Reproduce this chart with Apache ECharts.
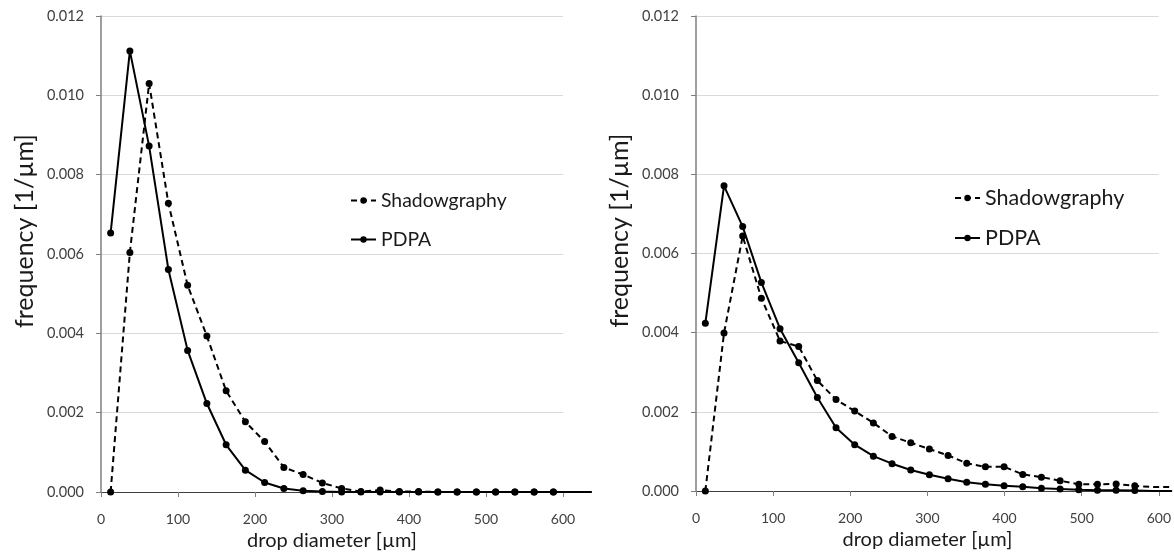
<!DOCTYPE html>
<html>
<head>
<meta charset="utf-8">
<script src="https://cdn.jsdelivr.net/npm/echarts@6/dist/echarts.min.js"></script>
<style>
  html, body { margin: 0; padding: 0; background: #fff; }
  #chart { width: 1174px; height: 557px; }
</style>
</head>
<body>
<div id="chart"></div>
<script>
// drop diameter class centres [µm]
const diameters = [12.5, 37.5, 62.5, 87.5, 112.5, 137.5, 162.5, 187.5, 212.5, 237.5,
  262.5, 287.5, 312.5, 337.5, 362.5, 387.5, 412.5, 437.5, 462.5, 487.5,
  512.5, 537.5, 562.5, 587.5, 612.5, 637.5]

// left panel
const leftShadow = [0, 0.00604, 0.01030, 0.00728, 0.00521, 0.00393, 0.00255, 0.00177, 0.00127, 0.00062,
  0.00044, 0.00023, 0.00009, 0.00001, 0.00005, 0.00001, 0.00001, 0, 0, 0,
  0, 0, 0, 0, 0, 0]
const leftPdpa = [0.00653, 0.01112, 0.00872, 0.00561, 0.00357, 0.00223, 0.00119, 0.00055, 0.00024, 0.00009,
  0.00003, 0.00001, 0, 0, 0, 0, 0, 0, 0, 0,
  0, 0, 0, 0, 0, 0]

// right panel
const rightShadow = [0, 0.00399, 0.00644, 0.00487, 0.00379, 0.00365, 0.00279, 0.00231, 0.00202, 0.00172,
  0.00138, 0.00122, 0.00106, 0.00090, 0.00070, 0.00061, 0.00061, 0.00042, 0.00035, 0.00026,
  0.00017, 0.00017, 0.00018, 0.00013, 0.00010, 0.00010]
const rightPdpa = [0.00424, 0.00771, 0.00668, 0.00527, 0.00410, 0.00324, 0.00236, 0.00160, 0.00117, 0.00088,
  0.00069, 0.00053, 0.00041, 0.00031, 0.00022, 0.00017, 0.00013, 0.00011, 0.00007, 0.00005,
  0.00003, 0.00002, 0.00002, 0.00001, 0, 0]

const xTicks = [0, 100, 200, 300, 400, 500, 600]
const yTicks = [0, 0.002, 0.004, 0.006, 0.008, 0.010, 0.012]

const FONT = 'Lato'
const xMax = xTicks[xTicks.length - 1]
const xMaxData = 640   // the curves run a little past the last tick

// panel boxes (the axis frame), series get a wider twin grid with the same scale
const panels = [
  { left: 101, top: 16, width: 462, height: 476 },
  { left: 696, top: 16, width: 463, height: 475 }
]

function toPoints(values) {
  return diameters.map((d, i) => {
    let p = { value: [d, values[i]] }
    if (d > xMax) p.symbolSize = 0
    return p
  })
}

function makeSeries(name, values, idx, dashed) {
  return {
    name: name,
    type: 'line',
    xAxisIndex: idx,
    yAxisIndex: idx,
    data: toPoints(values),
    clip: false,
    symbol: 'circle',
    symbolSize: 7,
    showSymbol: true,
    animation: false,
    z: 5,
    itemStyle: { color: '#000' },
    lineStyle: { color: '#000', width: 2, type: dashed ? [6, 4] : 'solid' }
  }
}

function makeX(idx) {
  return {
    type: 'value',
    gridIndex: idx,
    min: 0,
    max: xMax,
    interval: 100,
    name: 'drop diameter [µm]',
    nameLocation: 'middle',
    nameGap: 38,
    nameTextStyle: { fontFamily: FONT, fontSize: 20, color: '#1a1a1a' },
    axisLine: { show: true, onZero: false, lineStyle: { color: '#3f3f3f', width: 1 } },
    axisTick: { show: true, inside: false, length: 5, lineStyle: { color: '#7f7f7f' } },
    axisLabel: { fontFamily: FONT, fontSize: 14, color: '#404040', margin: 20 },
    splitLine: { show: false }
  }
}

function makeY(idx) {
  return {
    type: 'value',
    gridIndex: idx,
    min: 0,
    max: yTicks[yTicks.length - 1],
    interval: 0.002,
    name: 'frequency [1/µm]',
    nameLocation: 'middle',
    nameGap: 64,
    // Excel puts the title a bit above the middle of the axis
    nameTextStyle: { fontFamily: FONT, fontSize: 25, color: '#1a1a1a', padding: [0, 0, 0, 46] },
    axisLine: { show: true, lineStyle: { color: '#7f7f7f', width: 1.5 } },
    axisTick: { show: true, inside: false, length: 5, lineStyle: { color: '#7f7f7f' } },
    axisLabel: {
      fontFamily: FONT, fontSize: 14.5, color: '#404040', margin: 17,
      formatter: v => v.toFixed(3)
    },
    splitLine: { show: true, lineStyle: { color: '#d9d9d9', width: 1 } }
  }
}

// hidden twin axes for the data grids
function hiddenX(idx) {
  return { type: 'value', gridIndex: idx, min: 0, max: xMaxData, show: false }
}
function hiddenY(idx) {
  return { type: 'value', gridIndex: idx, min: 0, max: yTicks[yTicks.length - 1], show: false }
}

function makeLegend(left, top, fontSize, gap) {
  return {
    data: ['Shadowgraphy', 'PDPA'],
    orient: 'vertical',
    left: left,
    top: top,
    itemWidth: 25,
    itemHeight: 8,
    itemGap: gap,
    selectedMode: false,
    textStyle: { fontFamily: FONT, fontSize: fontSize, color: '#1a1a1a', padding: [0, 0, 0, 0] }
  }
}

const chart = echarts.init(document.getElementById('chart'), null, { renderer: 'canvas' })

const dataGrids = panels.map(p => ({
  left: p.left, top: p.top, height: p.height,
  width: p.width * xMaxData / xMax
}))

const option = {
  backgroundColor: '#fff',
  animation: false,
  textStyle: { fontFamily: FONT },
  grid: [panels[0], panels[1], dataGrids[0], dataGrids[1]],
  xAxis: [makeX(0), makeX(1), hiddenX(2), hiddenX(3)],
  yAxis: [makeY(0), makeY(1), hiddenY(2), hiddenY(3)],
  legend: [makeLegend(345, 186, 19.4, 20), makeLegend(949, 182, 21.5, 18)],
  series: [
    makeSeries('Shadowgraphy', leftShadow, 2, true),
    makeSeries('PDPA', leftPdpa, 2, false),
    makeSeries('Shadowgraphy', rightShadow, 3, true),
    makeSeries('PDPA', rightPdpa, 3, false)
  ]
}

chart.setOption(option)
</script>
</body>
</html>
